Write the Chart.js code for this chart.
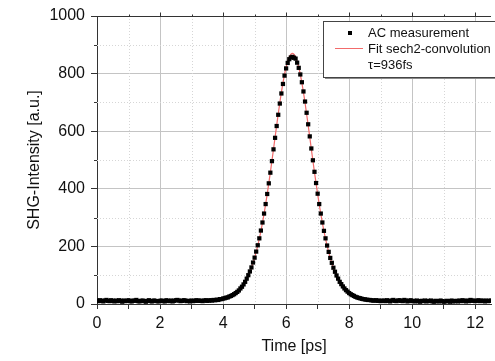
<!DOCTYPE html>
<html>
<head>
<meta charset="utf-8">
<script src="https://cdn.jsdelivr.net/npm/chart.js@4.4.1/dist/chart.umd.min.js"></script>
<style>
html, body { margin: 0; padding: 0; background: #fff; }
</style>
</head>
<body>
<canvas id="ac-chart" width="495" height="361"></canvas>
<script>
// autocorrelation trace, sampled every 0.05 ps from 0 ps
const timeStart = 0;
const timeStep = 0.05;
const acSignal = [
    12, 10, 13, 11, 9, 12, 14, 11, 10, 13,
    11, 9, 12, 10, 13, 11, 8, 12, 10, 11,
    13, 10, 9, 12, 11, 14, 10, 9, 11, 12,
    10, 8, 11, 13, 10, 9, 12, 11, 10, 9,
    11, 12, 10, 9, 13, 11, 10, 12, 9, 11,
    13, 14, 12, 10, 11, 13, 12, 10, 11, 9,
    12, 10, 11, 13, 11, 12, 11, 10, 12, 13,
    11, 12, 13, 12, 14, 13, 15, 14, 17, 17,
    19, 20, 22, 23, 26, 28, 31, 34, 38, 42,
    47, 54, 60, 68, 77, 88, 100, 113, 127, 144,
    161, 182, 204, 228, 255, 283, 314, 347, 382, 419,
    456, 496, 537, 577, 618, 657, 696, 731, 764, 793,
    818, 837, 850, 856, 858, 855, 852, 838, 820, 797,
    770, 738, 703, 664, 624, 582, 540, 499, 459, 420,
    383, 347, 314, 283, 254, 228, 203, 181, 160, 143,
    126, 112, 99, 88, 77, 69, 61, 54, 48, 43,
    38, 34, 31, 28, 25, 23, 21, 20, 18, 17,
    16, 15, 14, 14, 13, 12, 12, 13, 11, 12,
    10, 11, 12, 10, 13, 11, 9, 12, 14, 11,
    10, 12, 13, 11, 10, 14, 12, 9, 11, 13,
    10, 11, 9, 12, 10, 8, 11, 10, 12, 9,
    11, 10, 12, 9, 8, 11, 10, 9, 12, 10,
    8, 9, 11, 10, 8, 12, 9, 10, 11, 9,
    12, 10, 13, 11, 9, 12, 10, 14, 11, 12,
    10, 11, 13, 10, 12, 11, 9, 12, 10, 11,
    12
];

// sech2 fit curve
const fitTime = [0, 1, 2, 2.7, 3.2, 3.6, 3.8,
    3.9, 4.0, 4.1, 4.2, 4.3, 4.4, 4.5, 4.6, 4.7, 4.8, 4.9, 5.0, 5.1, 5.2, 5.3, 5.4, 5.5, 5.6, 5.7, 5.8, 5.9, 6.0, 6.1,
    6.2,
    6.3, 6.4, 6.5, 6.6, 6.7, 6.8, 6.9, 7.0, 7.1, 7.2, 7.3, 7.4, 7.5, 7.6, 7.7, 7.8, 7.9, 8.0, 8.1, 8.2, 8.3, 8.4, 8.5,
    8.6, 8.8, 9.2, 9.7, 11, 12.5];
const fitSignal = [10, 10, 10, 10.1, 10.6, 12.2, 14.3,
    16, 18.2, 21.3, 25.3, 30.8, 38.2, 47.9, 60.8, 77.4, 98.9, 126.3, 160.5, 202.6, 253.3, 313.1, 381.5, 457.3, 537.9, 620.3, 698.8, 767.7, 822.9, 857.8,
    870,
    857.8, 822.9, 767.7, 698.8, 620.3, 537.9, 457.3, 381.5, 313.1, 253.3, 202.6, 160.5, 126.3, 98.9, 77.4, 60.8, 47.9, 38.2, 30.8, 25.3, 21.3, 18.2, 16,
    14.3, 12.2, 10.6, 10.1, 10, 10];

const xMin = 0, xMax = 12.5;
const yMin = 0, yMax = 1000;

const legendItems = ['AC measurement', 'Fit sech2-convolution', 'τ=936fs'];

const FONT = "'Liberation Sans', Arial, sans-serif";
const fitColor = '#f26b6b';

let acPoints = acSignal.map((v, i) => ({x: +(timeStart + i * timeStep).toFixed(2), y: v}));
let fitPoints = fitSignal.map((v, i) => ({x: fitTime[i], y: v}));

// minor dotted grid, top axis, minor ticks and the boxed legend
const frame = {
    id: 'frame',
    beforeDatasetsDraw(chart) {
        const {ctx, chartArea: a, scales: {x, y}} = chart;
        ctx.save();
        ctx.strokeStyle = '#d6d6d6';
        ctx.lineWidth = 1;
        ctx.setLineDash([1, 2]);
        ctx.beginPath();
        for (let v = 1; v < xMax; v += 2) {
            const px = Math.round(x.getPixelForValue(v)) + 0.5;
            ctx.moveTo(px, a.top);
            ctx.lineTo(px, a.bottom);
        }
        for (let v = 100; v < yMax; v += 200) {
            const py = Math.round(y.getPixelForValue(v)) + 0.5;
            ctx.moveTo(a.left, py);
            ctx.lineTo(a.right, py);
        }
        ctx.stroke();
        ctx.restore();
    },
    afterDraw(chart) {
        const {ctx, chartArea: a, scales: {x, y}} = chart;
        ctx.save();
        ctx.strokeStyle = '#333';
        ctx.lineWidth = 1;
        ctx.beginPath();
        // top axis
        const top = Math.round(a.top) + 0.5;
        ctx.moveTo(a.left - 6, top);
        ctx.lineTo(a.right, top);
        for (let v = 1; v <= 12; v++) {
            const px = Math.round(x.getPixelForValue(v)) + 0.5;
            ctx.moveTo(px, top);
            ctx.lineTo(px, top - (v % 2 === 0 ? 4 : 2));
        }
        // minor ticks left
        for (let v = 100; v < yMax; v += 200) {
            const py = Math.round(y.getPixelForValue(v)) + 0.5;
            ctx.moveTo(a.left, py);
            ctx.lineTo(a.left - 3, py);
        }
        ctx.stroke();

        // legend box, running off the right edge like the original
        const bx = a.left + 226, by = a.top + 5, bw = 240, bh = 56;
        ctx.fillStyle = '#8a8a8a';
        ctx.fillRect(bx + 2, by + 2, bw, bh);
        ctx.fillStyle = '#fff';
        ctx.fillRect(bx, by, bw, bh);
        ctx.strokeStyle = '#444';
        ctx.strokeRect(bx + 0.5, by + 0.5, bw, bh);

        ctx.fillStyle = '#000';
        ctx.fillRect(bx + 25, by + 10, 4, 4);
        ctx.strokeStyle = fitColor;
        ctx.beginPath();
        ctx.moveTo(bx + 12, by + 27.5);
        ctx.lineTo(bx + 40, by + 27.5);
        ctx.stroke();

        ctx.fillStyle = '#111';
        ctx.font = '13px ' + FONT;
        ctx.textBaseline = 'middle';
        legendItems.forEach((t, i) => ctx.fillText(t, bx + 45, by + 12 + i * 16));
        ctx.restore();
    }
};

const config = {
    type: 'scatter',
    data: {
        datasets: [{
            label: legendItems[0],
            data: acPoints,
            pointStyle: 'rect',
            pointRadius: 3,
            pointBackgroundColor: '#000',
            pointBorderColor: '#000',
            pointBorderWidth: 0,
            showLine: false
        },
        {
            label: legendItems[1],
            data: fitPoints,
            showLine: true,
            borderColor: fitColor,
            borderWidth: 1.2,
            pointRadius: 0,
            cubicInterpolationMode: 'monotone'
        }]
    },
    options: {
        responsive: false,
        animation: false,
        devicePixelRatio: 1,
        layout: { padding: { top: 16, right: 0, bottom: 0, left: 0 } },
        plugins: {
            legend: { display: false },
            tooltip: { enabled: false }
        },
        scales: {
            x: {
                type: 'linear',
                position: 'bottom',
                min: xMin,
                max: xMax,
                afterFit: s => { s.height = 57; },
                ticks: {
                    stepSize: 1,
                    autoSkip: false,
                    includeBounds: false,
                    maxRotation: 0,
                    padding: 5,
                    color: '#111',
                    font: { family: FONT, size: 16 },
                    callback: v => (v % 2 === 0 ? v : '')
                },
                grid: {
                    color: c => (c.tick && c.tick.value % 2 === 0 ? '#c4c4c4' : 'rgba(0,0,0,0)'),
                    tickColor: '#333',
                    tickLength: 5,
                    lineWidth: 1
                },
                border: { color: '#333', width: 1 },
                title: {
                    display: true,
                    text: 'Time [ps]',
                    color: '#111',
                    font: { family: FONT, size: 16 },
                    padding: { top: 0, bottom: 5 }
                }
            },
            y: {
                min: yMin,
                max: yMax,
                afterFit: s => { s.width = 97; },
                ticks: {
                    stepSize: 100,
                    autoSkip: false,
                    padding: 6,
                    color: '#111',
                    font: { family: FONT, size: 16 },
                    callback: v => (v % 200 === 0 ? v : '')
                },
                grid: {
                    color: c => (c.tick && c.tick.value % 200 === 0 ? '#c4c4c4' : 'rgba(0,0,0,0)'),
                    tickColor: c => (c.tick && c.tick.value % 200 === 0 ? '#333' : 'rgba(0,0,0,0)'),
                    tickLength: 6,
                    lineWidth: 1
                },
                border: { color: '#333', width: 1 },
                title: {
                    display: true,
                    text: 'SHG-Intensity [a.u.]',
                    color: '#111',
                    font: { family: FONT, size: 16 },
                    padding: { top: 25, bottom: 0 }
                }
            }
        }
    },
    plugins: [frame]
};

const chart = new Chart(document.getElementById('ac-chart'), config);
</script>
</body>
</html>
